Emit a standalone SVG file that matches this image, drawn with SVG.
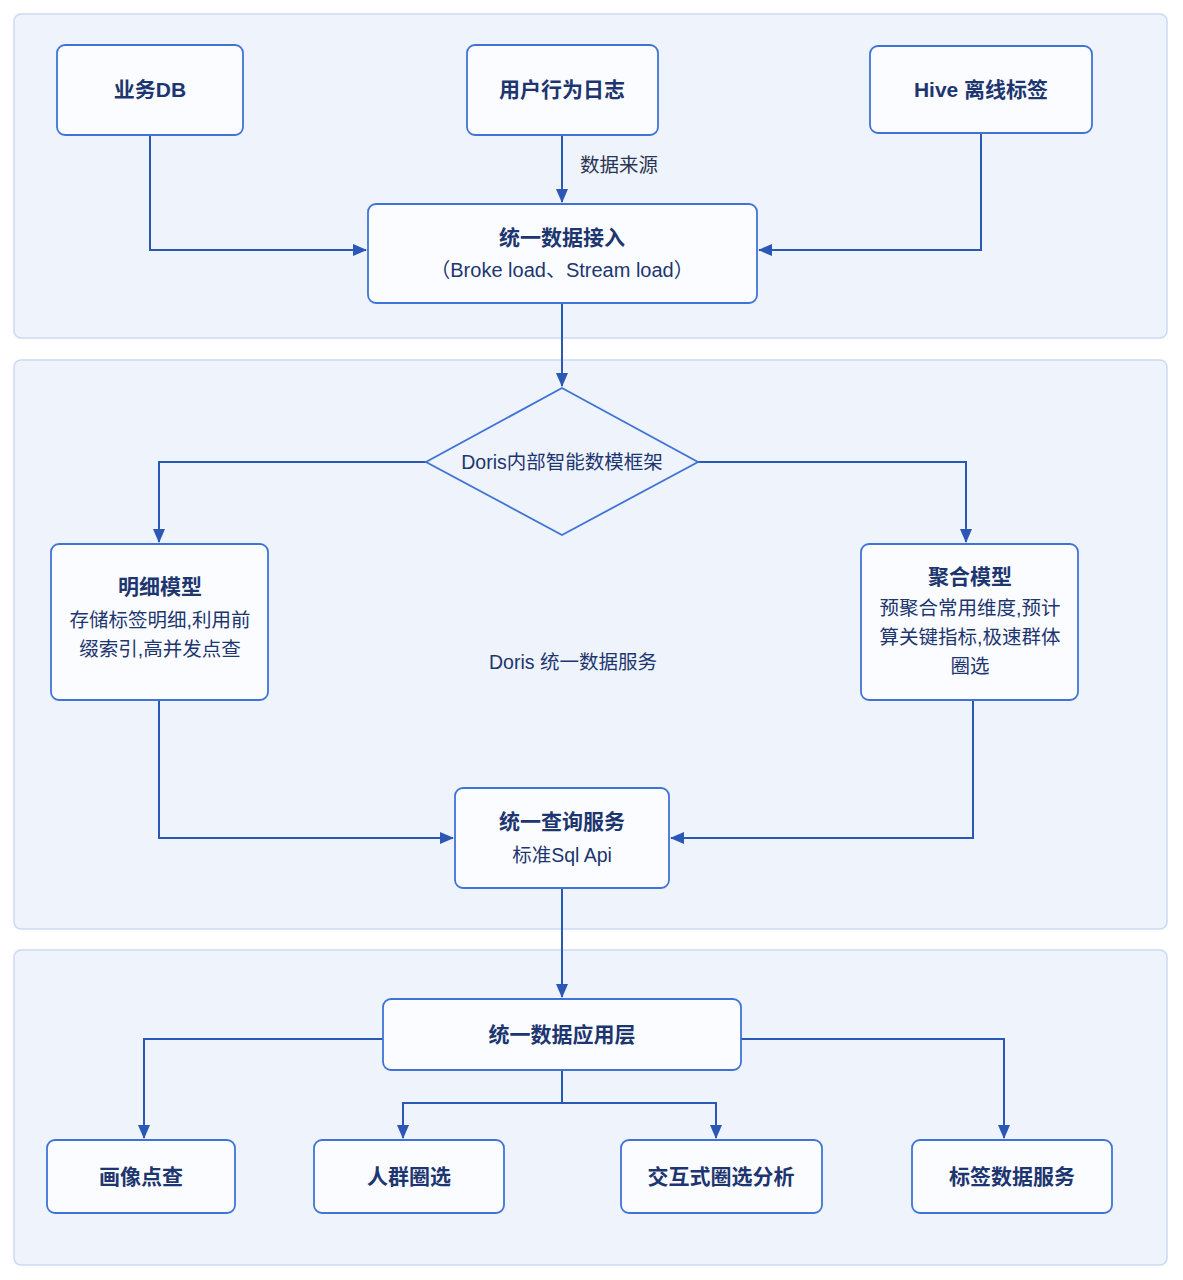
<svg xmlns="http://www.w3.org/2000/svg" width="1183" height="1280" viewBox="0 0 1183 1280">
<style>
.grp{fill:#eef3fc;stroke:#cbdaf3;stroke-width:1.5}
.box{fill:#fbfcff;stroke:#3f74d6;stroke-width:1.8}
.dia{fill:#eef3fc;stroke:#3f74d6;stroke-width:1.8}
.ln{fill:none;stroke:#2c58b5;stroke-width:2}
.t{font-family:"Liberation Sans","Noto Sans CJK SC",sans-serif;fill:#1d3670;text-anchor:middle}
.b{font-weight:bold;font-size:21px}
.r{font-size:19.5px}
.lbl{font-family:"Liberation Sans","Noto Sans CJK SC",sans-serif;fill:#2a3550;font-size:19.5px}
</style>
<defs>
<marker id="ah" markerWidth="14" markerHeight="12" refX="13" refY="6" orient="auto" markerUnits="userSpaceOnUse">
<path d="M0,0 L14,6 L0,12 z" fill="#2c58b5"/>
</marker>
</defs>
<rect width="1183" height="1280" fill="#ffffff"/>
<g id="groups">
<rect class="grp" x="14" y="14" width="1153" height="324" rx="7"/>
<rect class="grp" x="14" y="360" width="1153" height="569" rx="7"/>
<rect class="grp" x="14" y="950" width="1153" height="315" rx="7"/>
</g>
<g id="connectors">
<path class="ln" d="M150,135 V250 H366" marker-end="url(#ah)"/>
<path class="ln" d="M562,135 V202" marker-end="url(#ah)"/>
<path class="ln" d="M981,133 V250 H759" marker-end="url(#ah)"/>
<path class="ln" d="M562,303 V386" marker-end="url(#ah)"/>
<path class="ln" d="M426,462 H159 V542" marker-end="url(#ah)"/>
<path class="ln" d="M698,462 H966 V542" marker-end="url(#ah)"/>
<path class="ln" d="M159,700 V838 H453" marker-end="url(#ah)"/>
<path class="ln" d="M973,700 V838 H671" marker-end="url(#ah)"/>
<path class="ln" d="M562,888 V997" marker-end="url(#ah)"/>
<path class="ln" d="M383,1039 H144 V1138" marker-end="url(#ah)"/>
<path class="ln" d="M562,1070 V1103 H403 V1138" marker-end="url(#ah)"/>
<path class="ln" d="M562,1103 H716 V1138" marker-end="url(#ah)"/>
<path class="ln" d="M741,1039 H1004 V1138" marker-end="url(#ah)"/>
<text class="lbl" x="580" y="172">数据来源</text>
</g>
<g id="n-db">
<rect class="box" x="57" y="45" width="186" height="90" rx="8"/>
<text class="t b" x="150" y="97">业务DB</text>
</g>
<g id="n-log">
<rect class="box" x="467" y="45" width="191" height="90" rx="8"/>
<text class="t b" x="562" y="97">用户行为日志</text>
</g>
<g id="n-hive">
<rect class="box" x="870" y="46" width="222" height="87" rx="8"/>
<text class="t b" x="981" y="97">Hive 离线标签</text>
</g>
<g id="n-ingest">
<rect class="box" x="368" y="204" width="389" height="99" rx="8"/>
<text class="t b" x="562" y="245">统一数据接入</text>
<text class="t r" x="562" y="277" style="font-size:20px">（Broke load、Stream load）</text>
</g>
<g id="n-framework">
<polygon class="dia" points="562,388 698,462 562,535 426,462"/>
<text class="t" x="562" y="469" style="font-size:19.5px">Doris内部智能数模框架</text>
</g>
<g id="n-detail">
<rect class="box" x="51" y="544" width="217" height="156" rx="8"/>
<text class="t b" x="160" y="594">明细模型</text>
<text class="t r" x="160" y="627">存储标签明细,利用前</text>
<text class="t r" x="160" y="656">缀索引,高并发点查</text>
</g>
<g id="n-agg">
<rect class="box" x="861" y="544" width="217" height="156" rx="8"/>
<text class="t b" x="970" y="584">聚合模型</text>
<text class="t r" x="970" y="615">预聚合常用维度,预计</text>
<text class="t r" x="970" y="644">算关键指标,极速群体</text>
<text class="t r" x="970" y="673">圈选</text>
</g>
<g id="n-doris-label">
<text class="t" x="573" y="669" style="font-size:19.5px">Doris 统一数据服务</text>
</g>
<g id="n-query">
<rect class="box" x="455" y="788" width="214" height="100" rx="8"/>
<text class="t b" x="562" y="829">统一查询服务</text>
<text class="t r" x="562" y="862">标准Sql Api</text>
</g>
<g id="n-app">
<rect class="box" x="383" y="999" width="358" height="71" rx="8"/>
<text class="t b" x="562" y="1042">统一数据应用层</text>
</g>
<g id="n-portrait">
<rect class="box" x="47" y="1140" width="188" height="73" rx="8"/>
<text class="t b" x="141" y="1184">画像点查</text>
</g>
<g id="n-crowd">
<rect class="box" x="314" y="1140" width="190" height="73" rx="8"/>
<text class="t b" x="409" y="1184">人群圈选</text>
</g>
<g id="n-interactive">
<rect class="box" x="621" y="1140" width="201" height="73" rx="8"/>
<text class="t b" x="721" y="1184">交互式圈选分析</text>
</g>
<g id="n-tagsvc">
<rect class="box" x="912" y="1140" width="200" height="73" rx="8"/>
<text class="t b" x="1012" y="1184">标签数据服务</text>
</g>
</svg>
